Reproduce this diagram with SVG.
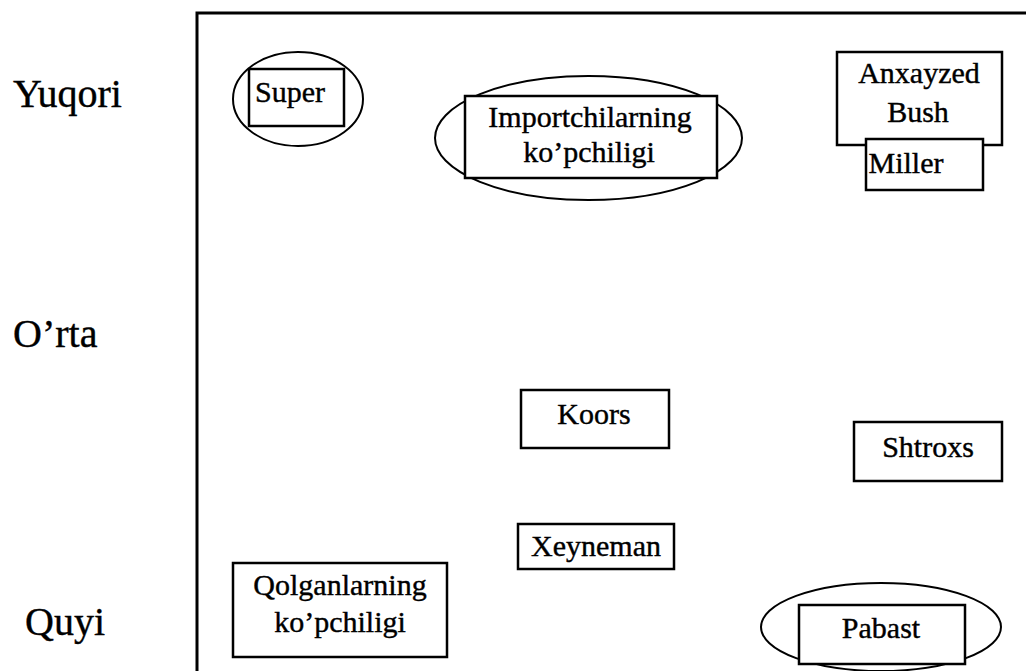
<svg xmlns="http://www.w3.org/2000/svg" width="1026" height="671" viewBox="0 0 1026 671">
<style>
text{font-family:"Liberation Serif","DejaVu Serif","Times New Roman",serif;fill:#000;stroke:#000;stroke-width:0.4}
.t{font-size:30px;text-anchor:middle}
.lab{font-size:40px}
.b{fill:#fff;stroke:#000;stroke-width:2.5}
.e{fill:none;stroke:#000;stroke-width:2}
.f{fill:none;stroke:#000;stroke-width:3}
</style>
<rect width="1026" height="671" fill="#fff"/>
<g id="frame">
<path class="f" d="M197 671 V13 H1026"/>
</g>
<g id="labels">
<text class="lab" x="13" y="107" font-family="Liberation Serif, serif">Yuqori</text>
<text class="lab" x="13" y="347" font-family="Liberation Serif, serif">O’rta</text>
<text class="lab" x="25" y="635" font-family="Liberation Serif, serif">Quyi</text>
</g>
<g id="connectors"></g>
<g id="super">
<ellipse class="e" cx="298" cy="99" rx="65" ry="47"/>
<rect class="b" x="249" y="69" width="95" height="57"/>
<text class="t" x="290" y="102" font-family="Liberation Serif, serif">Super</text>
</g>
<g id="importchilarning">
<ellipse class="e" cx="588.5" cy="138" rx="153.5" ry="62"/>
<rect class="b" x="465" y="96" width="252" height="82"/>
<text class="t" x="590" y="127" font-family="Liberation Serif, serif">Importchilarning</text>
<text class="t" x="589" y="162" font-family="Liberation Serif, serif">ko’pchiligi</text>
</g>
<g id="anxayzed">
<rect class="b" x="837" y="52" width="165" height="93"/>
<text class="t" x="919" y="83" font-family="Liberation Serif, serif">Anxayzed</text>
<text class="t" x="918" y="122" font-family="Liberation Serif, serif">Bush</text>
</g>
<g id="miller">
<rect class="b" x="866" y="139" width="117" height="51"/>
<text class="t" x="906" y="173" font-family="Liberation Serif, serif">Miller</text>
</g>
<g id="koors">
<rect class="b" x="521" y="390" width="148" height="58"/>
<text class="t" x="594" y="424" font-family="Liberation Serif, serif">Koors</text>
</g>
<g id="shtroxs">
<rect class="b" x="854" y="422" width="148" height="59"/>
<text class="t" x="928" y="457" font-family="Liberation Serif, serif">Shtroxs</text>
</g>
<g id="xeyneman">
<rect class="b" x="518" y="524" width="156" height="45"/>
<text class="t" x="596" y="556" font-family="Liberation Serif, serif">Xeyneman</text>
</g>
<g id="qolganlarning">
<rect class="b" x="233" y="563" width="214" height="94"/>
<text class="t" x="340" y="595" font-family="Liberation Serif, serif">Qolganlarning</text>
<text class="t" x="340" y="632" font-family="Liberation Serif, serif">ko’pchiligi</text>
</g>
<g id="pabast">
<ellipse class="e" cx="881" cy="627" rx="120" ry="44"/>
<rect class="b" x="799" y="605" width="166" height="59"/>
<text class="t" x="881" y="638" font-family="Liberation Serif, serif">Pabast</text>
</g>
</svg>
